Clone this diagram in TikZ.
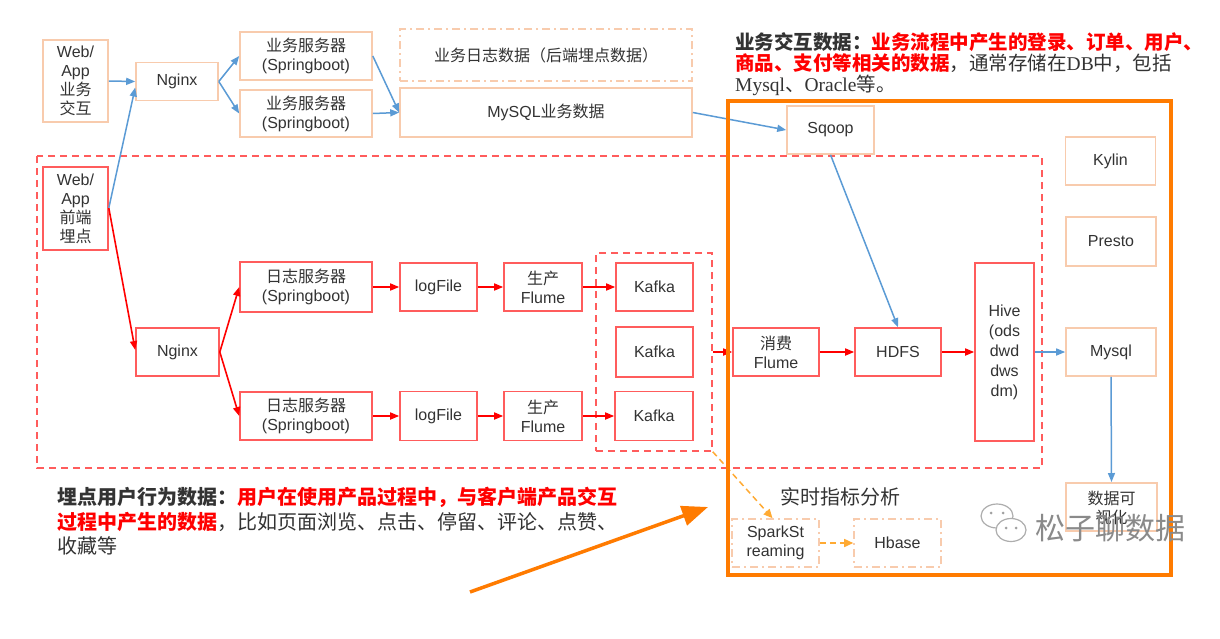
\documentclass[tikz,border=0pt]{standalone}
\usepackage{fontspec}
\setmainfont{Liberation Sans}
\newfontfamily\cjk{Noto Sans CJK SC}
\newfontfamily\serifl{Liberation Serif}
\usetikzlibrary{arrows.meta}
\definecolor{peach}{HTML}{F8CBAD}
\definecolor{lred}{HTML}{FF5C5C}
\definecolor{bblue}{HTML}{5B9BD5}
\definecolor{aorange}{HTML}{FF7B00}
\definecolor{dorange}{HTML}{FFAA33}
\definecolor{txt}{HTML}{333333}
\definecolor{wmark}{HTML}{8A8A8A}
\newcommand{\zh}[1]{{\cjk #1}}
\tikzset{
  bx/.style={draw, line width=1.6pt, inner sep=0pt, align=center, text=txt,
    font=\fontsize{16}{19}\selectfont},
  sz/.style 2 args={minimum width=#1pt, minimum height=#2pt},
  pbox/.style={bx, draw=peach},
  rbox/.style={bx, draw=lred},
  dbox/.style={bx, draw=peach, dash pattern=on 8pt off 4pt on 2pt off 4pt},
  barr/.style={draw=bblue, line width=1.5pt, -{Triangle[length=9pt,width=7pt]}},
  rarr/.style={draw=red, line width=1.6pt, -{Triangle[length=9pt,width=7pt]}},
  oarr/.style={draw=dorange, line width=1.5pt, dash pattern=on 6pt off 4pt,
    -{Triangle[length=9pt,width=8pt]}},
  rdash/.style={draw=lred, line width=1.5pt, dash pattern=on 7pt off 5pt},
  ann/.style={anchor=west, inner sep=0pt, text=txt},
}
\begin{document}
\begin{tikzpicture}[x=1pt,y=-1pt]
\useasboundingbox (0,0) rectangle (1220,638);
\fill[white] (0,0) rectangle (1220,638);

% red dashed outer region
\draw[rdash] (37,156) rectangle (1042,468);

% top row (business data)
\node[pbox, sz={65}{82}] (w1) at (75.5,81) {Web/\\App\\\zh{业务}\\\zh{交互}};
\node[pbox, sz={82}{38}] (n1) at (177,81.5) {Nginx};
\node[pbox, sz={132}{48}] (s1) at (306,56) {\zh{业务服务器}\\(Springboot)};
\node[pbox, sz={132}{47}] (s2) at (306,113.5) {\zh{业务服务器}\\(Springboot)};
\node[dbox, sz={292}{52}] (ld) at (546,55) {\zh{业务日志数据（后端埋点数据）}};
\node[pbox, sz={292}{49}] (my) at (546,112.5) {MySQL\zh{业务数据}};
\node[pbox, sz={87}{48}] (sq) at (830.5,130) {Sqoop};
\node[pbox, sz={90}{48}] (ky) at (1110.5,161) {Kylin};
\node[pbox, sz={90}{49}] (pr) at (1111,241.5) {Presto};
\node[pbox, sz={90}{48}] (m2) at (1111,352) {Mysql};
\node[pbox, sz={91}{48}, anchor=north, text depth=0pt] (vis) at (1111.5,482) {\zh{数据可}\\\zh{视化}};

% bottom (tracking) row
\node[rbox, sz={65}{83}] (w2) at (75.5,208.5) {Web/\\App\\\zh{前端}\\\zh{埋点}};
\node[rbox, sz={83}{48}] (n2) at (177.5,352) {Nginx};
\node[rbox, sz={132}{50}] (l1) at (306,287) {\zh{日志服务器}\\(Springboot)};
\node[rbox, sz={132}{48}] (l2) at (306,416) {\zh{日志服务器}\\(Springboot)};
\node[rbox, sz={77}{48}] (f1) at (438.5,287) {logFile};
\node[rbox, sz={77}{49}] (f2) at (438.5,416) {logFile};
\node[rbox, sz={78}{48}] (p1) at (543,287) {\zh{生产}\\Flume};
\node[rbox, sz={78}{49}] (p2) at (543,416) {\zh{生产}\\Flume};
\node[rbox, sz={77}{48}] (k1) at (654.5,287) {Kafka};
\node[rbox, sz={77}{50}] (k2) at (654.5,352) {Kafka};
\node[rbox, sz={78}{49}] (k3) at (654,416) {Kafka};
\node[rdash, sz={116}{198}, inner sep=0pt] (kg) at (654,352) {};
\node[rbox, sz={86}{48}] (cf) at (776,352) {\zh{消费}\\Flume};
\node[rbox, sz={86}{48}] (hd) at (898,352) {HDFS};
\node[rbox, sz={59}{178}, font=\fontsize{16}{20}\selectfont] (hv) at (1004.5,352) {Hive\\(ods\\dwd\\dws\\dm)};

% realtime
\node[text=txt, font=\fontsize{20}{24}\selectfont\cjk, inner sep=0pt] (rt) at (840,497) {实时指标分析};
\node[dbox, sz={87}{48}] (sp) at (775.5,543) {SparkSt\\reaming};
\node[dbox, sz={87}{48}] (hb) at (897.5,543) {Hbase};

% blue connectors
\draw[barr] (w1.east) -- (n1.west);
\draw[barr] (w2.east |- 0,208) -- ([yshift=-6pt]n1.west);
\draw[barr] (n1.east) -- (s1.west);
\draw[barr] (n1.east) -- (s2.west);
\draw[barr] (s1.east) -- (my.west);
\draw[barr] (s2.east) -- (my.west);
\draw[barr] (my.east) -- (sq.west);
\draw[barr] (sq.south) -- (hd.north);
\draw[barr] (hv.east) -- (m2.west);
\draw[barr] (m2.south) -- (vis.north);

% red connectors
\draw[rarr] (w2.east |- 0,208) -- ([yshift=2pt]n2.west);
\draw[rarr] (n2.east) -- (l1.west);
\draw[rarr] (n2.east) -- (l2.west);
\draw[rarr] (l1) -- (f1);
\draw[rarr] (f1) -- (p1);
\draw[rarr] (p1) -- (k1);
\draw[rarr] (l2) -- (f2);
\draw[rarr] (f2) -- (p2);
\draw[rarr] (p2) -- (k3);
\draw[rarr] (kg.east) -- (cf.west);
\draw[rarr] (cf) -- (hd);
\draw[rarr] (hd) -- (hv);

% orange dashed connectors
\draw[oarr] (kg.south east) -- ([xshift=-3pt]sp.north);
\draw[oarr] (sp) -- (hb);

% orange frame
\draw[aorange, line width=4pt] (728,101) rectangle (1171,575);

% big orange arrow
\coordinate (otail) at (470,592);
\coordinate (ohead) at (708,507);
\draw[aorange, line width=3.5pt, -{Triangle[length=26pt,width=20pt]}] (otail) -- (ohead);

% annotations top right
\node[ann, font=\fontsize{19.5}{23}\selectfont] (a1) at (735,42)
  {\cjk\bfseries 业务交互数据：\textcolor{red}{业务流程中产生的登录、订单、用户、}};
\node[ann, font=\fontsize{19.5}{23}\selectfont] (a2) at (735,63)
  {\cjk\textcolor{red}{\bfseries 商品、支付等相关的数据}，通常存储在{\serifl DB}中，包括};
\node[ann, font=\fontsize{19.5}{23}\selectfont] (a3) at (735,85)
  {{\serifl Mysql}\zh{、}{\serifl Oracle}\zh{等。}};

% annotations bottom left
\node[ann, font=\fontsize{20}{24}\selectfont] (b1) at (57,497)
  {\cjk\bfseries 埋点用户行为数据：\textcolor{red}{用户在使用产品过程中，与客户端产品交互}};
\node[ann, font=\fontsize{20}{24}\selectfont] (b2) at (57,522)
  {\cjk\textcolor{red}{\bfseries 过程中产生的数据}，比如页面浏览、点击、停留、评论、点赞、};
\node[ann, font=\fontsize{20}{24}\selectfont] (b3) at (57,546)
  {\cjk 收藏等};

% watermark
\begin{scope}[draw=wmark!70, line width=1.2pt, fill=white]
  \filldraw (997,516) ellipse (16pt and 12pt);
  \filldraw (1011,530) ellipse (15pt and 11.5pt);
  \fill[wmark!80] (991,513) circle (1.5pt) (1003,513) circle (1.5pt)
                  (1006,528) circle (1.5pt) (1016,528) circle (1.5pt);
\end{scope}
\node[text=wmark, font=\fontsize{30}{34}\selectfont\cjk, inner sep=0pt] (wm) at (1110,528) {松子聊数据};
\end{tikzpicture}
\end{document}
